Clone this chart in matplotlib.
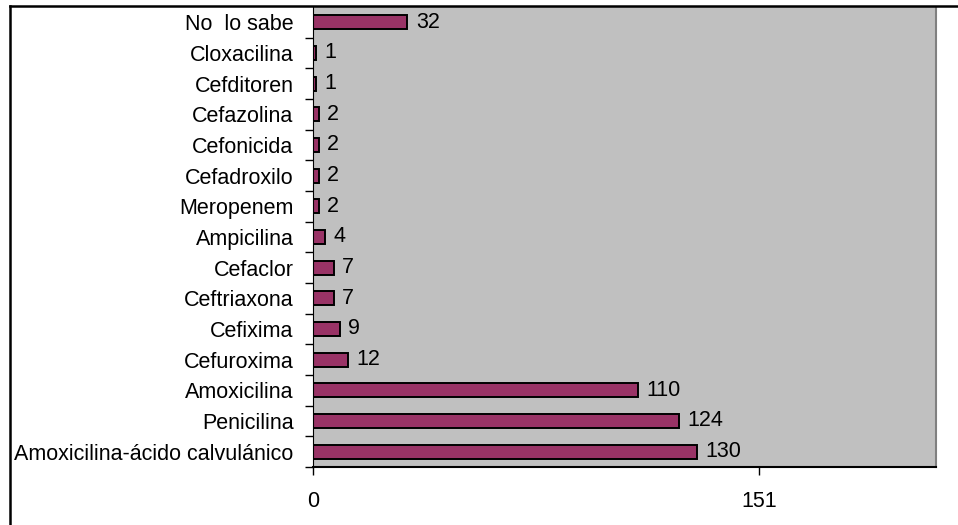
import matplotlib.pyplot as plt
from matplotlib.lines import Line2D

plt.rcParams['font.family'] = ['Liberation Sans', 'DejaVu Sans']

categories = ["No  lo sabe", "Cloxacilina", "Cefditoren", "Cefazolina", "Cefonicida",
              "Cefadroxilo", "Meropenem", "Ampicilina", "Cefaclor", "Ceftriaxona",
              "Cefixima", "Cefuroxima", "Amoxicilina", "Penicilina",
              "Amoxicilina-ácido calvulánico"]
values = [32, 1, 1, 2, 2, 2, 2, 4, 7, 7, 9, 12, 110, 124, 130]
xticks = [0, 151]

fs = 15.5

fig = plt.figure(figsize=(9.58, 5.25), dpi=100)
ax = fig.add_axes([313/958, 1 - 467/525, (936 - 313)/958, (467 - 7)/525])
ax.set_facecolor("#c0c0c0")

pos = list(range(len(categories)))
bars = ax.barh(pos, values, height=0.46, color="#993366", edgecolor="black", linewidth=1.4)
ax.bar_label(bars, labels=[str(v) for v in values], padding=6, fontsize=fs)

ax.set_ylim(len(categories) - 0.5, -0.5)
ax.set_xlim(0, 211)

ax.set_yticks(pos)
ax.set_yticklabels(categories, fontsize=fs)
ax.tick_params(axis="y", length=0, pad=14)
# category separator ticks
ax.set_yticks([p + 0.5 for p in pos], minor=True)
ax.tick_params(axis="y", which="minor", length=6, width=1, direction="out")

ax.set_xticks(xticks)
ax.set_xticklabels([str(t) for t in xticks], fontsize=fs)
ax.tick_params(axis="x", length=6, width=1, pad=11)

ax.spines["left"].set_color("black")
ax.spines["bottom"].set_color("black")
ax.spines["bottom"].set_linewidth(1.5)
ax.spines["right"].set_color("#808080")
ax.spines["right"].set_linewidth(1.5)
ax.spines["top"].set_visible(False)

# outer chart frame (left and top edges)
fig.add_artist(Line2D([10/958, 10/958], [0, 1 - 6/525], color="black", linewidth=1.8,
                      transform=fig.transFigure))
fig.add_artist(Line2D([10/958, 1], [1 - 6/525, 1 - 6/525], color="black", linewidth=1.8,
                      transform=fig.transFigure))

fig.savefig("out.png", dpi=100)
